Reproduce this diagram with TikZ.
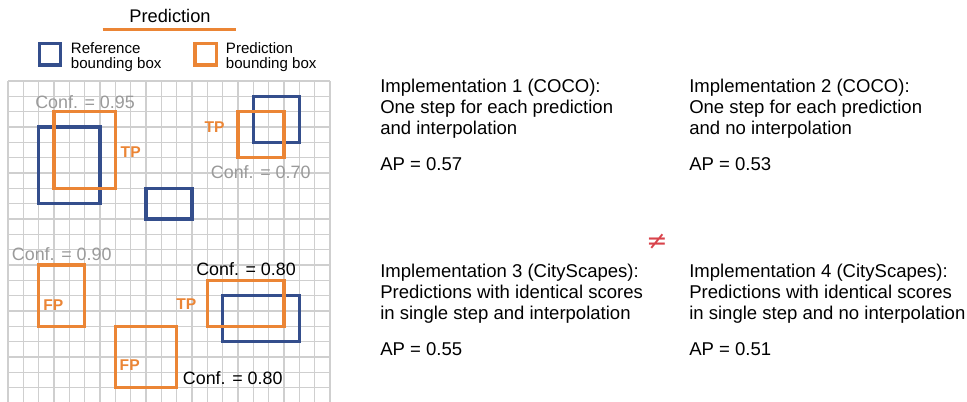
\documentclass[tikz,border=0pt]{standalone}
\usepackage{fontspec}
\setmainfont{Liberation Sans}
\newfontfamily\symbolfont{DejaVu Sans}
\definecolor{refblue}{HTML}{344E8C}
\definecolor{predorange}{HTML}{EB8535}
\definecolor{gridgray}{HTML}{CFCFCF}
\definecolor{conftext}{HTML}{9A9A9A}
\definecolor{neqred}{HTML}{D9434B}
\tikzset{
  refbox/.style={draw=refblue, line width=2.6pt},
  predbox/.style={draw=predorange, line width=2.6pt},
  gridline/.style={draw=gridgray, line width=0.85pt},
  conf/.style={inner sep=0pt, anchor=west, font=\fontsize{13.4}{16}\selectfont},
  flag/.style={inner sep=0pt, text=predorange, font=\fontsize{11.7}{14}\selectfont\bfseries},
  body/.style={inner sep=0pt, anchor=base west, font=\fontsize{13.9}{16}\selectfont},
  legendtext/.style={inner sep=0pt, anchor=base west, font=\fontsize{11.3}{11.3}\selectfont},
}
\begin{document}
\begin{tikzpicture}[x=0.75pt,y=-0.75pt]
\useasboundingbox (0,0) rectangle (967,402);
\fill[white] (0,0) rectangle (967,402);

% legend
\node[inner sep=0pt, anchor=base, font=\fontsize{13.7}{16}\selectfont] (title) at (170,22.2) {Prediction};
\draw[predorange, line width=2.3pt] (102.7,29.3) -- (236,29.3);
\draw[refbox, line width=2.4pt] (39.3,43.9) rectangle (60.7,65.1);
\node[legendtext] (lref1) at (70.7,53.7) {Reference};
\node[legendtext] (lref2) at (70.7,68.7) {bounding box};
\draw[predbox, line width=2.4pt] (195,43.9) rectangle (216.6,65.1);
\node[legendtext] (lpred1) at (225.7,53.7) {Prediction};
\node[legendtext] (lpred2) at (225.7,68.7) {bounding box};

% grid with boxes, in grid units
\begin{scope}
  \clip (0,0) rectangle (967,402);
  \begin{scope}[xshift=6pt, yshift=-60.75pt, x=11.5pt, y=-11.5pt]
    \foreach \k in {0,...,21} {
      \draw[gridline] (\k,0) -- (\k,21);
      \draw[gridline] (0,\k) -- (21,\k);
    }
    % reference boxes
    \draw[refbox] (2,3) rectangle (6,8);
    \draw[refbox] (9,7) rectangle (12,9);
    \draw[refbox] (16,1) rectangle (19,4);
    \draw[refbox] (14,14) rectangle (19,17);
    % predicted boxes
    \draw[predbox] (3,2) rectangle (7,7);
    \draw[predbox] (15,2) rectangle (18,5);
    \draw[predbox] (2,12) rectangle (5,16);
    \draw[predbox] (7,16) rectangle (11,20);
    \draw[predbox] (13,13) rectangle (18,16);
  \end{scope}
\end{scope}

% confidence labels
\node[conf, text=conftext] (c95) at (35,102) {Conf. = 0.95};
\node[conf, text=conftext] (c70) at (210.7,171.7) {Conf. = 0.70};
\node[conf, text=conftext] (c90) at (11.7,254) {Conf. = 0.90};
\node[conf] (c80a) at (196,269) {Conf. = 0.80};
\node[conf] (c80b) at (182.7,378.3) {Conf. = 0.80};

% match flags
\node[flag] (tp1) at (130.7,152) {TP};
\node[flag] (tp2) at (214.5,126.7) {TP};
\node[flag] (tp3) at (186.3,304) {TP};
\node[flag] (fp1) at (53.3,305) {FP};
\node[flag] (fp2) at (129.7,365) {FP};

% implementations
\node[body] (i1a) at (380,93) {Implementation 1 (COCO):};
\node[body] (i1b) at (380,114) {One step for each prediction};
\node[body] (i1c) at (380,135) {and interpolation};
\node[body] (i1d) at (380,171) {AP = 0.57};

\node[body] (i2a) at (689,93) {Implementation 2 (COCO):};
\node[body] (i2b) at (689,114) {One step for each prediction};
\node[body] (i2c) at (689,135) {and no interpolation};
\node[body] (i2d) at (689,171) {AP = 0.53};

\node[text=neqred, inner sep=0pt, font=\symbolfont\fontsize{19}{22}\selectfont] (neq) at (657,242) {≠};

\node[body] (i3a) at (380,278) {Implementation 3 (CityScapes):};
\node[body] (i3b) at (380,299) {Predictions with identical scores};
\node[body] (i3c) at (380,320) {in single step and interpolation};
\node[body] (i3d) at (380,356) {AP = 0.55};

\node[body] (i4a) at (689,278) {Implementation 4 (CityScapes):};
\node[body] (i4b) at (689,299) {Predictions with identical scores};
\node[body] (i4c) at (689,320) {in single step and no interpolation};
\node[body] (i4d) at (689,356) {AP = 0.51};
\end{tikzpicture}
\end{document}
